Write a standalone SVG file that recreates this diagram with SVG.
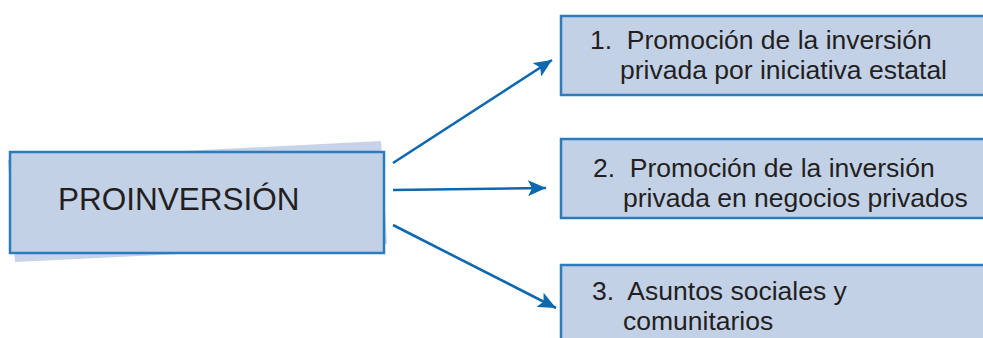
<svg xmlns="http://www.w3.org/2000/svg" width="983" height="338" viewBox="0 0 983 338">
<defs>
<style>
.box{fill:#c3d1e7;stroke:#2b7bbd;stroke-width:2.5}
.shadow{fill:#c6d3e9}
.t{font-family:"Liberation Sans",Arial,sans-serif;fill:#231f20}
.lbl{font-size:26.5px}
.conn{stroke:#0d68ae;stroke-width:2.6;fill:none;marker-end:url(#ah)}
</style>
<marker id="ah" markerUnits="userSpaceOnUse" markerWidth="22" markerHeight="16" refX="18" refY="8" orient="auto">
<path d="M0,0 L18,8 L0,16 L4,8 z" fill="#0d68ae"/>
</marker>
</defs>
<rect width="983" height="338" fill="#ffffff"/>
<g id="node-proinversion">
<polygon class="shadow" points="8,160 381,141 387,244 15,262"/>
<rect class="box" x="10" y="152" width="374" height="101"/>
<text class="t" x="58" y="210" font-size="31.5">PROINVERSIÓN</text>
</g>
<g id="node-1">
<rect class="box" x="561" y="16" width="440" height="79"/>
<text class="t lbl" xml:space="preserve"><tspan x="590" y="49">1.  Promoción de la inversión</tspan><tspan x="620" y="79">privada por iniciativa estatal</tspan></text>
</g>
<g id="node-2">
<rect class="box" x="561" y="139" width="440" height="79"/>
<text class="t lbl" xml:space="preserve"><tspan x="593" y="177">2.  Promoción de la inversión</tspan><tspan x="623" y="207">privada en negocios privados</tspan></text>
</g>
<g id="node-3">
<rect class="box" x="561" y="265" width="440" height="90"/>
<text class="t lbl" xml:space="preserve"><tspan x="592" y="300">3.  Asuntos sociales y</tspan><tspan x="623" y="330">comunitarios</tspan></text>
</g>
<g id="connectors">
<line class="conn" x1="393" y1="163" x2="552" y2="60"/>
<line class="conn" x1="393" y1="190" x2="546" y2="188"/>
<line class="conn" x1="393" y1="225" x2="556" y2="308"/>
</g>
</svg>
